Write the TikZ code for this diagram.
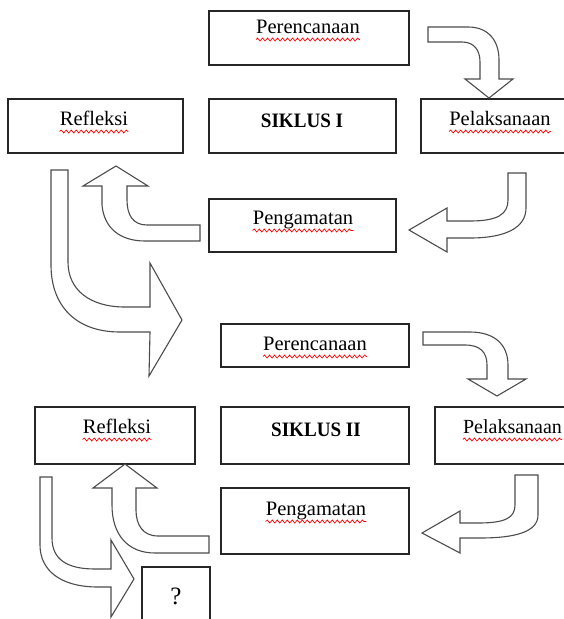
\documentclass[tikz,border=0pt]{standalone}
\usepackage{fontspec}
\usepackage{graphicx}
\setmainfont{Liberation Serif}
\usetikzlibrary{calc,decorations.pathmorphing}
\tikzset{
  box/.style={draw=black!85, line width=1.4pt, inner sep=0pt, fill=white},
  lbl/.style={inner sep=0pt, anchor=base, font=\fontsize{20.5}{24}\selectfont},
  blockarrow/.style={draw=black!70, line width=1.1pt, fill=white, line join=miter},
  spell/.style={draw=red, line width=0.7pt, decorate,
    decoration={snake, segment length=5pt, amplitude=1.5pt}},
}
\newcommand{\spellmark}[1]{\draw[spell] ($(#1.base west)+(0,6.5)$) -- ($(#1.base east)+(0,6.5)$);}
\begin{document}
\begin{tikzpicture}[x=1pt,y=-1pt]
\useasboundingbox (0,0) rectangle (564,619);
\clip (0,0) rectangle (564,619);

% boxes
\node[box, minimum width=200pt, minimum height=54pt] (p1) at (309,38) {};
\node[box, minimum width=175pt, minimum height=54pt] (r1) at (95.5,126) {};
\node[box, minimum width=187pt, minimum height=54pt] (s1) at (302.5,126) {};
\node[box, minimum width=158pt, minimum height=54pt] (l1) at (500,126) {};
\node[box, minimum width=187pt, minimum height=53pt] (g1) at (302.5,225.5) {};
\node[box, minimum width=188pt, minimum height=43pt] (p2) at (315,345.5) {};
\node[box, minimum width=160pt, minimum height=57pt] (r2) at (115,435.5) {};
\node[box, minimum width=188pt, minimum height=57pt] (s2) at (315,435.5) {};
\node[box, minimum width=160pt, minimum height=57pt] (l2) at (515,435.5) {};
\node[box, minimum width=188pt, minimum height=66pt] (g2) at (315,521) {};
\node[box, minimum width=68pt, minimum height=63pt] (q) at (176,598.5) {};

% texts
\node[lbl] (p1t) at (308,33) {Perencanaan};
\node[lbl] (r1t) at (94,125) {Refleksi};
\node[lbl] (s1t) at (302,127) {\scalebox{0.93}[1]{\bfseries SIKLUS I}};
\node[lbl] (l1t) at (500,125) {Pelaksanaan};
\node[lbl] (g1t) at (303,224) {Pengamatan};
\node[lbl] (p2t) at (315,350) {Perencanaan};
\node[lbl] (r2t) at (117,433) {Refleksi};
\node[lbl] (s2t) at (316,436) {\scalebox{0.93}[1]{\bfseries SIKLUS II}};
\node[lbl, font=\fontsize{20}{24}\selectfont] (l2t) at (512.5,433) {Pelaksanaan};
\node[lbl] (g2t) at (316,515) {Pengamatan};
\node[lbl, font=\fontsize{25}{28}\selectfont] (qt) at (176,604) {?};

\spellmark{p1t}
\spellmark{r1t}
\spellmark{l1t}
\spellmark{g1t}
\spellmark{p2t}
\spellmark{r2t}
\spellmark{l2t}
\spellmark{g2t}

% block arrows, cycle I
\draw[blockarrow] (428,27) -- (468,27) .. controls (488,27) and (499,40) .. (499,60) -- (499,79)
  -- (513,79) -- (489,98) -- (465,79) -- (480,79) -- (480,62)
  .. controls (480,50) and (474,42) .. (462,42) -- (428,42) -- cycle;
\draw[blockarrow] (508,173) -- (526,173) -- (526,208) .. controls (526,228) and (505,238) .. (470,238)
  -- (447,238) -- (447,252) -- (409,230) -- (447,208) -- (447,221) -- (470,221)
  .. controls (498,221) and (508,214) .. (508,200) -- cycle;
\draw[blockarrow] (200,225) -- (147,225) .. controls (133,225) and (127,215) .. (127,200) -- (127,186)
  -- (148,186) -- (116,166) -- (83,186) -- (102,186) -- (102,205)
  .. controls (104,228) and (120,241) .. (145,241) -- (200,241) -- cycle;
\draw[blockarrow] (51,170) -- (68,170) -- (68,262) .. controls (68,290) and (90,307) .. (125,307)
  -- (150,307) -- (150,263) -- (182,320) -- (149,376) -- (150,332) -- (120,332)
  .. controls (75,332) and (51,305) .. (51,265) -- cycle;

% block arrows, cycle II
\draw[blockarrow] (423,332) -- (470,332) .. controls (495,332) and (508,345) .. (508,365) -- (508,379)
  -- (526,379) -- (497,396) -- (468,379) -- (487,379) -- (487,365)
  .. controls (487,352) and (480,345) .. (465,345) -- (423,345) -- cycle;
\draw[blockarrow] (515,475) -- (538,475) -- (538,515) .. controls (538,532) and (515,538) .. (480,538)
  -- (460,538) -- (460,553) -- (422,533) -- (460,511) -- (460,523) -- (478,523)
  .. controls (505,523) and (515,518) .. (515,505) -- cycle;
\draw[blockarrow] (209,536) -- (158,536) .. controls (143,536) and (136,525) .. (136,510) -- (136,488)
  -- (157,488) -- (125,464) -- (93,488) -- (112,488) -- (112,505)
  .. controls (112,535) and (128,553) .. (155,553) -- (209,553) -- cycle;
\draw[blockarrow] (40,477) -- (52,477) -- (52,538) .. controls (52,560) and (68,569) .. (95,569)
  -- (111,569) -- (111,540) -- (134,579) -- (111,617) -- (111,587) -- (98,587)
  .. controls (60,587) and (40,570) .. (40,545) -- cycle;
\end{tikzpicture}
\end{document}
